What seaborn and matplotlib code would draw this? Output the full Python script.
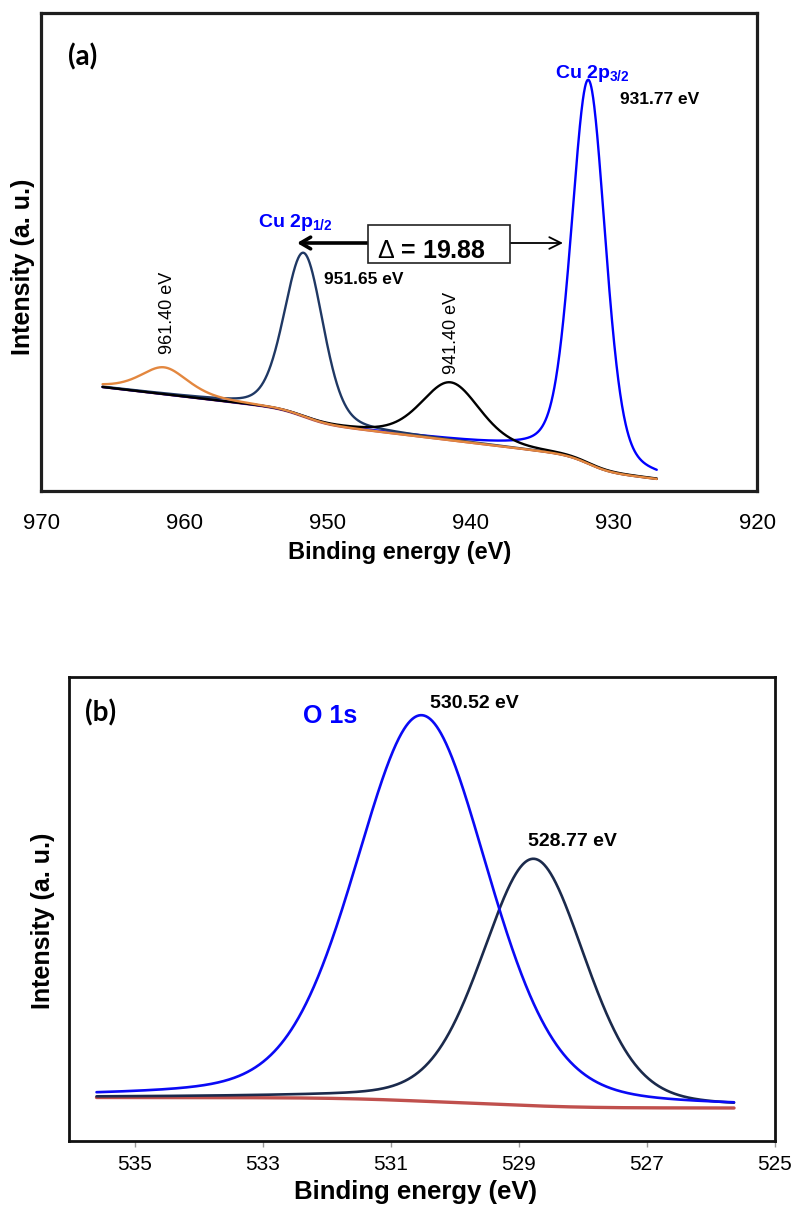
import numpy as np
import pandas as pd
import matplotlib
matplotlib.use("Agg")
import matplotlib.pyplot as plt
import seaborn as sns
from matplotlib.patches import Rectangle

# ---------------- Cu 2p region: fitted components ----------------
cu_names = ["Cu 2p3/2", "Cu 2p1/2", "Satellite 941", "Satellite 961"]
cu_centers = [931.77, 951.65, 941.40, 961.40]      # eV
cu_heights = [384.0, 164.0, 58.0, 27.0]            # a.u. above background
cu_fwhm = [2.8, 3.2, 4.8, 4.0]                     # eV
cu_eta = [0.30, 0.25, 0.30, 0.50]                  # Lorentzian fraction
cu_colors = ["#0000FF", "#1F3864", "#000000", "#E3873F"]
cu_span = [965.7, 927.0]
cu_bg_floor = 12.0          # background at the low-energy end
cu_bg_slope = 1.65          # linear background rise per eV
cu_bg_steps = [15.0, 13.0, 0.0, 0.0]   # Shirley step carried by each line
cu_ticks = [970, 960, 950, 940, 930, 920]

# ---------------- O 1s region: fitted components ----------------
o_names = ["O 1s 530.52", "O 1s 528.77"]
o_centers = [530.52, 528.77]
o_heights = [386.0, 247.0]
o_fwhm = [2.45, 1.90]
o_eta = [0.25, 0.25]
o_colors = ["#0A0AF5", "#1B2A4C"]
o_span = [535.6, 525.64]
o_bg_floor = 33.0
o_bg_slope = 0.0
o_bg_steps = [7.0, 3.5]
o_ticks = [535, 533, 531, 529, 527, 525]


def pseudo_voigt(x, c, h, w, eta):
    u = (x - c) / w
    return h * (eta / (1.0 + 4.0 * u ** 2) + (1.0 - eta) * np.exp(-4.0 * np.log(2.0) * u ** 2))


def build_region(span, centers, heights, fwhm, eta, floor, slope, steps, names):
    e = np.linspace(span[0], span[1], 1500)          # descending binding energy
    comps = [pseudo_voigt(e, c, h, w, n) for c, h, w, n in zip(centers, heights, fwhm, eta)]
    bg = floor + slope * (e - span[1])
    for p, s in zip(comps, steps):
        rev = p[::-1]
        cum = np.concatenate([[0.0], np.cumsum(0.5 * (rev[1:] + rev[:-1]))])
        bg = bg + s * (cum / cum[-1])[::-1]
    rows = [pd.DataFrame({"energy": e, "intensity": bg, "component": "Background"})]
    for p, nm in zip(comps, names):
        rows.append(pd.DataFrame({"energy": e, "intensity": bg + p, "component": nm}))
    return pd.concat(rows, ignore_index=True)


cu_df = build_region(cu_span, cu_centers, cu_heights, cu_fwhm, cu_eta,
                     cu_bg_floor, cu_bg_slope, cu_bg_steps, cu_names)
o_df = build_region(o_span, o_centers, o_heights, o_fwhm, o_eta,
                    o_bg_floor, o_bg_slope, o_bg_steps, o_names)

sns.set_theme(style="white")
plt.rcParams["font.family"] = ["Liberation Sans", "DejaVu Sans"]
plt.rcParams["mathtext.fontset"] = "custom"
plt.rcParams["mathtext.rm"] = "Liberation Sans"
plt.rcParams["mathtext.bf"] = "Liberation Sans:bold"
plt.rcParams["mathtext.it"] = "Liberation Sans:italic"
plt.rcParams["text.color"] = "black"
plt.rcParams["axes.labelcolor"] = "black"
plt.rcParams["xtick.color"] = "black"
plt.rcParams["xtick.labelcolor"] = "black"

W, H = 796, 1207
fig = plt.figure(figsize=(W / 100, H / 100), dpi=100)
fig.patch.set_facecolor("white")
ax1 = fig.add_axes([41 / W, 1 - 491 / H, 716 / W, 478 / H])
ax2 = fig.add_axes([69 / W, 1 - 1141 / H, 706 / W, 464 / H])

# ---- panel (a): Cu 2p ----
sns.lineplot(data=cu_df[cu_df.component == "Background"], x="energy", y="intensity",
             color="#C0504D", lw=1.6, estimator=None, sort=False, ax=ax1)
for nm, col in zip(cu_names, cu_colors):
    sns.lineplot(data=cu_df[cu_df.component == nm], x="energy", y="intensity",
                 color=col, lw=1.7, estimator=None, sort=False, ax=ax1)

ax1.set_xlim(970, 920)
ax1.set_ylim(0, 478)
ax1.set_xticks(cu_ticks)
ax1.set_xticklabels([str(t) for t in cu_ticks])
ax1.set_yticks([])
ax1.tick_params(axis="x", length=0, pad=15.5, labelsize=16, labelcolor="black")
ax1.set_xlabel("Binding energy (eV)", fontsize=17, fontweight="bold", va="center",
               color="black")
ax1.xaxis.set_label_coords(0.501, -0.128)
ax1.set_ylabel("Intensity (a. u.)", fontsize=18, fontweight="bold", va="center",
               color="black")
ax1.yaxis.set_label_coords(-0.025, 0.47)
for sp in ax1.spines.values():
    sp.set_linewidth(2.3)
    sp.set_color("#1E1E1E")

ax1.text(0.0587, 0.908, "(a)", transform=ax1.transAxes, fontsize=20, fontweight="bold",
         family=["Lato", "Liberation Sans"], ha="center", va="center")

blue = "#0000FF"
ax1.text(934.11, 413, r"$\mathbf{Cu\ 2p_{3/2}}$", color=blue, fontsize=14,
         ha="left", va="baseline")
ax1.text(954.85, 264, r"$\mathbf{Cu\ 2p_{1/2}}$", color=blue, fontsize=14,
         ha="left", va="baseline")
ax1.text(929.57, 392, f"{cu_centers[0]:.2f} eV", fontsize=12.5, fontweight="bold",
         ha="left", va="center")
ax1.text(950.24, 212, f"{cu_centers[1]:.2f} eV", fontsize=12.5, fontweight="bold",
         ha="left", va="center")
ax1.text(941.30, 158, f"{cu_centers[2]:.2f} eV", fontsize=13, rotation=90,
         ha="center", va="center")
ax1.text(961.20, 178, f"{cu_centers[3]:.2f} eV", fontsize=13, rotation=90,
         ha="center", va="center")

# spin-orbit splitting box with arrows
split = cu_centers[1] - cu_centers[0]
ax1.add_patch(Rectangle((947.16, 228), 937.25 - 947.16, 38, fill=True, facecolor="white",
                        edgecolor="#222222", lw=1.2, zorder=5))
ax1.text(942.74, 233, r"$\Delta$" + f" = {split:.2f}", fontsize=18, fontweight="bold",
         ha="center", va="baseline", zorder=6)
ax1.annotate("", xy=(952.12, 248), xytext=(947.16, 248),
             arrowprops=dict(arrowstyle="->,head_length=0.6,head_width=0.35",
                             lw=2.6, color="black", shrinkA=0, shrinkB=0))
ax1.annotate("", xy=(933.55, 248), xytext=(937.25, 248),
             arrowprops=dict(arrowstyle="->,head_length=0.7,head_width=0.35",
                             lw=1.3, color="black", shrinkA=0, shrinkB=0))

# ---- panel (b): O 1s ----
sns.lineplot(data=o_df[o_df.component == "Background"], x="energy", y="intensity",
             color="#C0504D", lw=2.4, estimator=None, sort=False, ax=ax2)
for nm, col in zip(o_names[::-1], o_colors[::-1]):
    sns.lineplot(data=o_df[o_df.component == nm], x="energy", y="intensity",
                 color=col, lw=1.9, estimator=None, sort=False, ax=ax2)

ax2.set_xlim(536.03, 525)
ax2.set_ylim(0, 464)
ax2.set_xticks(o_ticks)
ax2.set_xticklabels([str(t) for t in o_ticks])
ax2.set_yticks([])
ax2.tick_params(axis="x", bottom=True, direction="out", length=4, width=1,
                color="#999999", pad=5.8, labelsize=15, labelcolor="black")
ax2.set_xlabel("Binding energy (eV)", fontsize=18.5, fontweight="bold", va="center",
               color="black")
ax2.xaxis.set_label_coords(0.4915, -0.110)
ax2.set_ylabel("Intensity (a. u.)", fontsize=18, fontweight="bold", va="center",
               color="black")
ax2.yaxis.set_label_coords(-0.0368, 0.474)
for sp in ax2.spines.values():
    sp.set_linewidth(2.0)
    sp.set_color("#111111")

ax2.text(0.0453, 0.922, "(b)", transform=ax2.transAxes, fontsize=20, fontweight="bold",
         family=["Lato", "Liberation Sans"], ha="center", va="center")
ax2.text(531.95, 425, "O 1s", color=blue, fontsize=18, fontweight="bold",
         ha="center", va="center")
ax2.text(529.69, 437, f"{o_centers[0]:.2f} eV", fontsize=14, fontweight="bold",
         ha="center", va="center")
ax2.text(528.17, 299, f"{o_centers[1]:.2f} eV", fontsize=14, fontweight="bold",
         ha="center", va="center")

for ax in (ax1, ax2):
    leg = ax.get_legend()
    if leg is not None:
        leg.remove()

fig.savefig("out.png", dpi=100, facecolor="white")
